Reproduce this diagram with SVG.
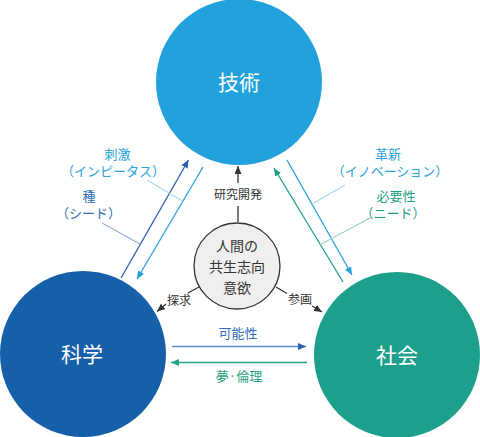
<svg xmlns="http://www.w3.org/2000/svg" width="480" height="437" viewBox="0 0 480 437">
<style>
text{font-family:"Noto Sans CJK JP","Noto Sans",sans-serif;text-anchor:middle}
.big{font-size:21px;fill:#fff}
.mid{font-size:14px;fill:#333}
.sm{font-size:12px;fill:#333}
.lab{font-size:13px}
.c-lb{fill:#2aa1dc}
.c-db{fill:#2f6db5}
.c-gr{fill:#1fa083}
.ln{fill:none;stroke-width:1.3}
.ld{fill:none;stroke-width:1}
</style>
<defs>
<marker id="m-dk" markerWidth="8" markerHeight="7" refX="8" refY="3.5" orient="auto" markerUnits="userSpaceOnUse"><path d="M0,0 L8,3.5 L0,7 z" fill="#333"/></marker>
<marker id="m-db" markerWidth="8" markerHeight="7" refX="8" refY="3.5" orient="auto" markerUnits="userSpaceOnUse"><path d="M0,0 L8,3.5 L0,7 z" fill="#2b5fab"/></marker>
<marker id="m-lb" markerWidth="8" markerHeight="7" refX="8" refY="3.5" orient="auto" markerUnits="userSpaceOnUse"><path d="M0,0 L8,3.5 L0,7 z" fill="#2aa1dc"/></marker>
<marker id="m-gr" markerWidth="8" markerHeight="7" refX="8" refY="3.5" orient="auto" markerUnits="userSpaceOnUse"><path d="M0,0 L8,3.5 L0,7 z" fill="#22a085"/></marker>
<marker id="m-sb" markerWidth="8" markerHeight="7" refX="8" refY="3.5" orient="auto" markerUnits="userSpaceOnUse"><path d="M0,0 L8,3.5 L0,7 z" fill="#2b5fab"/></marker>
</defs>

<g id="node-tech">
<circle cx="239" cy="82" r="83" fill="#22a2dc"/>
<text class="big" x="239" y="89.5">技術</text>
</g>
<g id="node-science">
<circle cx="83" cy="354" r="83" fill="#1660a9"/>
<text class="big" x="82" y="362">科学</text>
</g>
<g id="node-society">
<circle cx="397" cy="355" r="83" fill="#1ca08b"/>
<text class="big" x="397" y="363">社会</text>
</g>
<g id="node-center">
<circle cx="237" cy="266" r="43" fill="#efefef" stroke="#333" stroke-width="1.3"/>
<text class="mid" x="237" y="250.5">人間の</text>
<text class="mid" x="237" y="272">共生志向</text>
<text class="mid" x="237" y="292.5">意欲</text>
</g>

<g id="connectors">
<line class="ln" x1="238" y1="222" x2="238" y2="206" stroke="#333" stroke-width="1"/>
<line class="ln" x1="238" y1="183" x2="238" y2="166" stroke="#333" stroke-width="1" marker-end="url(#m-dk)"/>
<line class="ln" x1="199" y1="287" x2="188" y2="293" stroke="#333" stroke-width="1"/>
<line class="ln" x1="166" y1="304" x2="157" y2="311.5" stroke="#333" stroke-width="1" marker-end="url(#m-dk)"/>
<line class="ln" x1="276" y1="287" x2="287" y2="293.5" stroke="#333" stroke-width="1"/>
<line class="ln" x1="312" y1="306" x2="322" y2="312" stroke="#333" stroke-width="1" marker-end="url(#m-dk)"/>

<line class="ln" x1="121" y1="278" x2="188.5" y2="160" stroke="#2b5fab" marker-end="url(#m-db)"/>
<line class="ln" x1="203" y1="167" x2="137" y2="279" stroke="#2aa1dc" marker-end="url(#m-lb)"/>
<line class="ln" x1="287" y1="160" x2="352" y2="275" stroke="#2aa1dc" marker-end="url(#m-lb)"/>
<line class="ln" x1="343" y1="282" x2="274" y2="168" stroke="#22a085" marker-end="url(#m-gr)"/>
<line class="ln" x1="172" y1="346.5" x2="306" y2="346.5" stroke="#5a8ccc" marker-end="url(#m-sb)"/>
<line class="ln" x1="307" y1="362.5" x2="171" y2="362.5" stroke="#22a085" marker-end="url(#m-gr)"/>

<line class="ld" x1="147" y1="180" x2="182.5" y2="201" stroke="#8fcdec"/>
<line class="ld" x1="102" y1="223" x2="140" y2="244" stroke="#7b9fd0"/>
<line class="ld" x1="345" y1="185" x2="312" y2="204" stroke="#8fcdec"/>
<line class="ld" x1="370" y1="218" x2="319.5" y2="245" stroke="#7dcfb9"/>
</g>

<g id="labels">
<text class="sm" x="238" y="198.5">研究開発</text>
<text class="sm" x="179" y="304.5">探求</text>
<text class="sm" x="300" y="304">参画</text>

<text class="lab c-lb" x="117.5" y="158.5">刺激</text>
<text class="lab c-lb" x="113" y="176">（インピータス）</text>
<text class="lab c-db" x="89" y="200.5">種</text>
<text class="lab c-db" x="88.5" y="218">（シード）</text>

<text class="lab c-lb" x="388" y="158.5">革新</text>
<text class="lab c-lb" x="390" y="176">（イノベーション）</text>
<text class="lab c-gr" x="396" y="200.5">必要性</text>
<text class="lab c-gr" x="393" y="218">（ニード）</text>

<text class="lab c-db" x="238" y="338">可能性</text>
<text class="lab c-gr" x="239" y="381">夢·倫理</text>
</g>
</svg>
